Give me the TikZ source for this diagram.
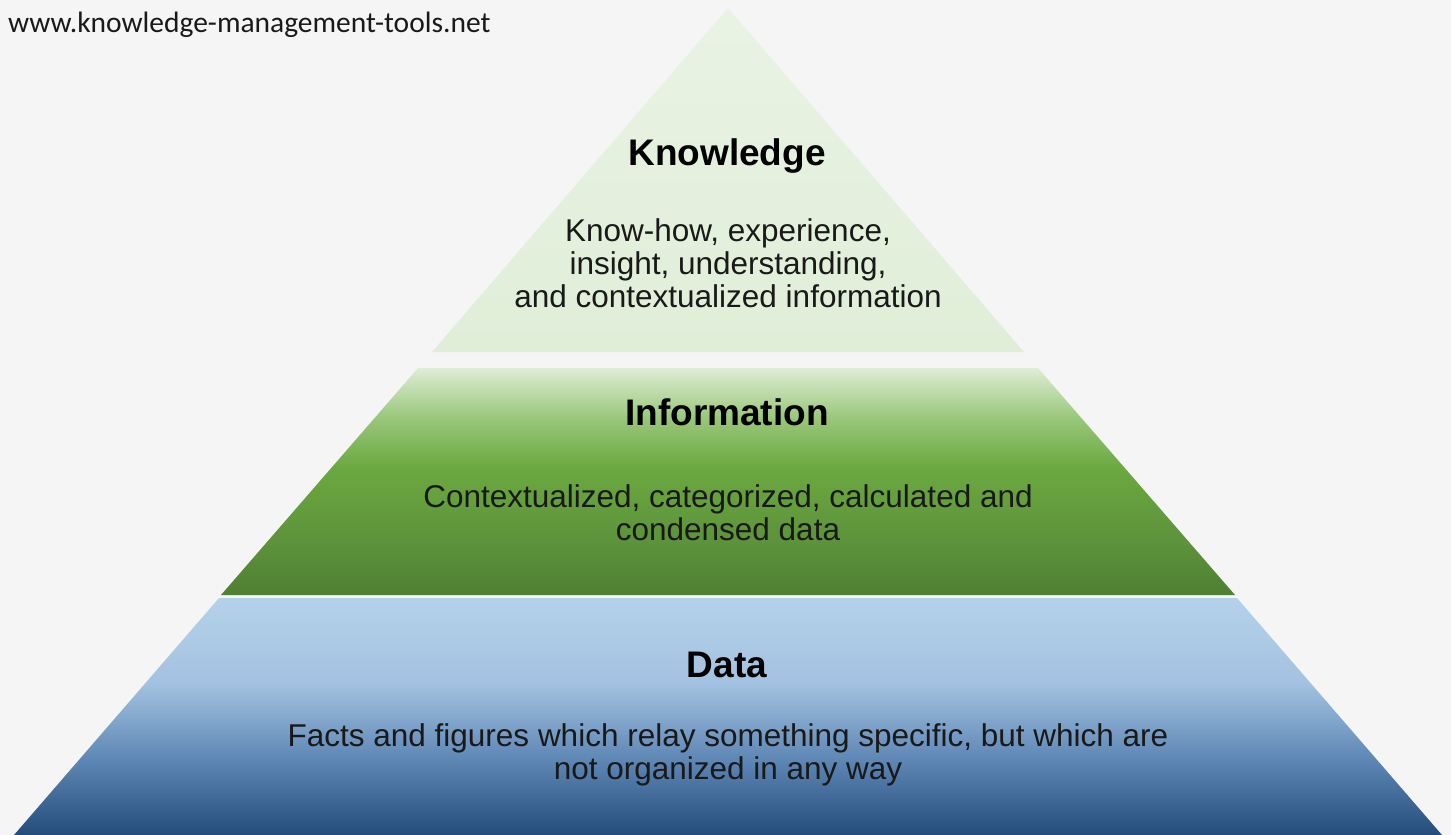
\documentclass[tikz,border=0pt]{standalone}
\usepackage{fontspec}
\setmainfont{Liberation Sans}
\newfontfamily\urlfont{Carlito}
\usetikzlibrary{positioning}

\definecolor{bgcol}{RGB}{245,245,245}
\definecolor{knowtop}{RGB}{233,243,228}
\definecolor{knowbot}{RGB}{224,238,216}
\definecolor{textcol}{RGB}{25,25,25}

\pgfdeclareverticalshading{infoshade}{100bp}{rgb(0bp)=(0.31,0.50,0.20); rgb(25bp)=(0.31,0.50,0.20); rgb(36bp)=(0.36,0.57,0.23); rgb(53bp)=(0.42,0.66,0.25); rgb(64bp)=(0.60,0.78,0.48); rgb(75bp)=(0.87,0.93,0.84); rgb(100bp)=(0.87,0.93,0.84)}
\pgfdeclareverticalshading{datashade}{100bp}{rgb(0bp)=(0.14,0.30,0.48); rgb(25bp)=(0.14,0.30,0.48); rgb(41bp)=(0.37,0.53,0.71); rgb(57bp)=(0.64,0.76,0.88); rgb(75bp)=(0.71,0.82,0.92); rgb(100bp)=(0.71,0.82,0.92)}

\tikzset{
  tiertitle/.style={font=\fontsize{37}{40}\selectfont\bfseries, text=black, inner sep=0pt},
  tierbody/.style={font=\fontsize{31.5}{33}\selectfont, text=textcol, align=center, inner sep=0pt}
}

\begin{document}
\begin{tikzpicture}[x=1pt,y=-1pt]
\fill[bgcol] (0,0) rectangle (1451,835);
\useasboundingbox (0,0) rectangle (1451,835);

\shade[top color=knowtop, bottom color=knowbot] (728,8) -- (1024,352) -- (432,352) -- cycle;
\shade[shading=infoshade] (418,368) -- (1038,368) -- (1235,595) -- (221,595) -- cycle;
\shade[shading=datashade] (219,598) -- (1237,598) -- (1442,835) -- (14,835) -- cycle;

\node[anchor=base west, inner sep=0pt, font=\urlfont\fontsize{29.5}{32}\selectfont, text=textcol] (url) at (8,32) {www.knowledge-management-tools.net};

\node[tiertitle] (knowtitle) at (727,156) {Knowledge};
\node[tierbody] (knowbody) at (728,263) {Know-how, experience,\\insight, understanding,\\and contextualized information};

\node[tiertitle] (infotitle) at (727,412) {Information};
\node[tierbody] (infobody) at (728,513) {Contextualized, categorized, calculated and\\condensed data};

\node[tiertitle] (datatitle) at (727,665) {Data};
\node[tierbody] (databody) at (728,755) {Facts and figures which relay something specific, but which are\\not organized in any way};
\end{tikzpicture}
\end{document}
